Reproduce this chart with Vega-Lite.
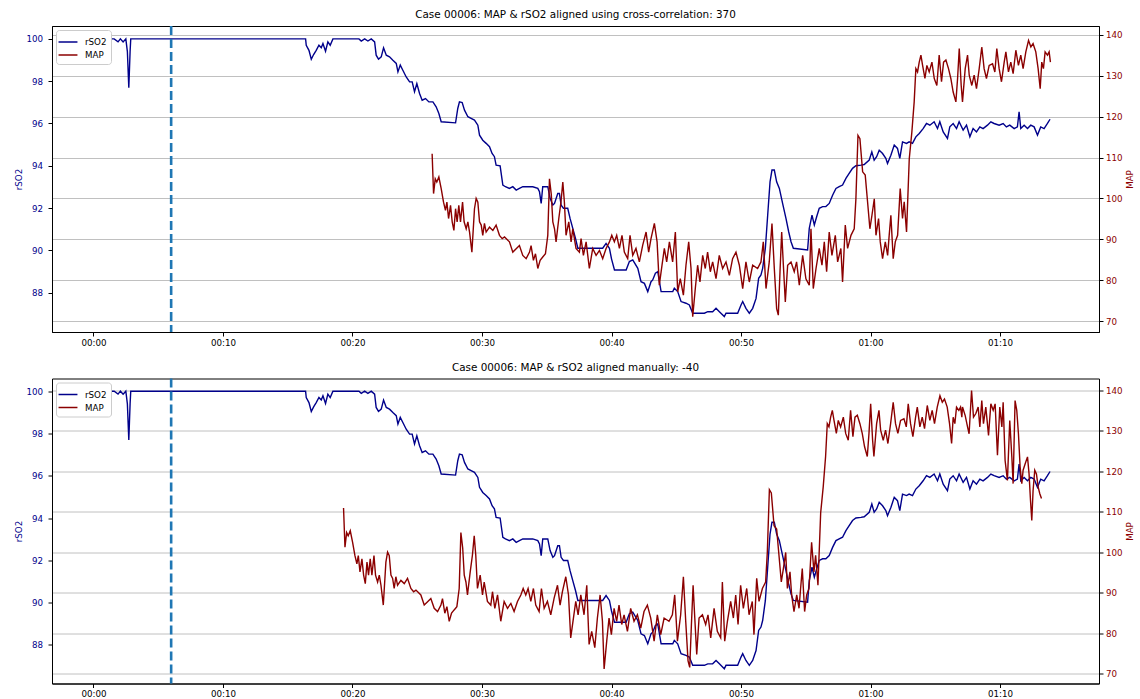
{
"$schema": "https://vega.github.io/schema/vega-lite/v6.json",
"autosize": {"type": "pad"},
"padding": {"left": 13, "top": 9, "right": 2, "bottom": 2},
"background": "white",
"config": {
  "font": "DejaVu Sans",
  "view": {"stroke": "#000000", "strokeWidth": 1},
  "axis": {"labelFontSize": 8.7, "titleFontSize": 8.7, "titleFontWeight": "normal", "tickSize": 4, "tickColor": "#000000", "domainColor": "#000000", "labelColor": "#000000", "grid": false},
  "title": {"fontSize": 10.4, "fontWeight": "normal", "offset": 4, "color": "#000000"},
  "legend": {"orient": "top-left", "title": null, "symbolType": "M-1.35,0H1.35", "symbolStrokeWidth": 1.5, "symbolSize": 196, "labelFontSize": 8.7, "labelColor": "#000000", "strokeColor": "#cccccc", "fillColor": "#ffffff", "padding": 4, "cornerRadius": 3, "offset": 4, "rowPadding": -1, "labelOffset": 9}
},
"datasets": {
"rso2": [
{"t":0.5,"v":100},{"t":1.6,"v":100},{"t":1.9,"v":99.86},{"t":2.08,"v":100},{"t":2.29,"v":99.86},{"t":2.5,"v":100},{"t":2.62,"v":99.4},{"t":2.73,"v":97.69},{"t":2.83,"v":99.4},{"t":2.88,"v":100},
{"t":16.38,"v":100},{"t":16.43,"v":99.7},{"t":16.64,"v":99.46},{"t":16.82,"v":99.04},{"t":17.0,"v":99.26},{"t":17.2,"v":99.46},{"t":17.41,"v":99.7},{"t":17.59,"v":99.58},{"t":17.72,"v":99.78},{"t":17.92,"v":99.42},{"t":18.1,"v":99.86},{"t":18.28,"v":99.7},{"t":18.49,"v":100},
{"t":20.5,"v":100},{"t":20.68,"v":99.9},{"t":20.94,"v":100},{"t":21.19,"v":99.9},{"t":21.45,"v":100},{"t":21.71,"v":99.86},{"t":21.83,"v":99.23},{"t":22.01,"v":99.04},{"t":22.22,"v":99.15},{"t":22.4,"v":99.58},{"t":22.61,"v":99.23},{"t":22.86,"v":99.15},{"t":23.12,"v":98.99},{"t":23.38,"v":98.84},{"t":23.51,"v":98.44},{"t":23.69,"v":98.76},{"t":23.89,"v":98.52},{"t":24.15,"v":98.2},{"t":24.41,"v":97.97},{"t":24.61,"v":97.97},{"t":24.79,"v":97.5},{"t":24.97,"v":97.89},{"t":25.18,"v":97.42},{"t":25.38,"v":97.1},{"t":25.64,"v":97.18},{"t":25.9,"v":97.02},{"t":26.21,"v":97.02},{"t":26.46,"v":96.79},{"t":26.67,"v":96.47},{"t":26.85,"v":96.08},{"t":27.96,"v":96.03},{"t":28.13,"v":96.71},{"t":28.26,"v":97.02},{"t":28.47,"v":96.99},{"t":28.65,"v":96.63},{"t":28.91,"v":96.32},{"t":29.16,"v":96.24},{"t":29.42,"v":96.16},{"t":29.68,"v":95.92},{"t":29.81,"v":95.45},{"t":30.06,"v":95.21},{"t":30.32,"v":95.06},{"t":30.58,"v":94.9},{"t":30.78,"v":94.58},{"t":30.96,"v":94.43},{"t":31.09,"v":94.03},{"t":31.4,"v":94.0},{"t":31.61,"v":93.09},{"t":31.81,"v":93.01},{"t":32.12,"v":92.93},{"t":32.38,"v":93.01},{"t":32.64,"v":92.85},{"t":32.89,"v":92.93},{"t":33.15,"v":93.01},{"t":33.54,"v":93.01},{"t":33.92,"v":93.01},{"t":34.31,"v":92.93},{"t":34.44,"v":92.77},{"t":34.57,"v":92.22},{"t":34.69,"v":93.01},{"t":35.08,"v":93.01},{"t":35.26,"v":92.46},{"t":35.47,"v":92.14},{"t":35.6,"v":92.22},{"t":35.85,"v":92.69},{"t":35.98,"v":92.69},{"t":36.11,"v":92.14},{"t":36.29,"v":91.99},{"t":36.62,"v":91.99},{"t":36.8,"v":91.51},{"t":37.01,"v":91.04},{"t":37.22,"v":90.57},{"t":37.4,"v":90.1},{"t":39.32,"v":90.1},{"t":39.58,"v":90.33},{"t":39.84,"v":90.1},{"t":40.0,"v":89.6},{"t":40.23,"v":89.07},{"t":41.13,"v":89.07},{"t":41.38,"v":89.47},{"t":41.64,"v":89.55},{"t":42.03,"v":89.15},{"t":42.28,"v":88.52},{"t":42.54,"v":88.44},{"t":42.8,"v":88.05},{"t":43.05,"v":88.52},{"t":43.18,"v":88.6},{"t":43.39,"v":88.92},{"t":43.57,"v":88.99},{"t":43.83,"v":88.05},{"t":44.73,"v":88.05},{"t":44.85,"v":88.21},{"t":45.11,"v":88.05},{"t":45.37,"v":87.58},{"t":45.75,"v":87.5},{"t":46.01,"v":87.42},{"t":46.27,"v":87.03},{"t":47.17,"v":87.03},{"t":47.43,"v":87.1},{"t":47.81,"v":87.1},{"t":48.07,"v":87.26},{"t":48.33,"v":87.1},{"t":48.71,"v":86.87},{"t":48.84,"v":87.03},{"t":49.74,"v":87.03},{"t":50.0,"v":87.42},{"t":50.13,"v":87.58},{"t":50.38,"v":87.26},{"t":50.64,"v":87.03},{"t":50.9,"v":87.26},{"t":51.16,"v":87.73},{"t":51.36,"v":88.68},{"t":51.54,"v":88.84},{"t":51.67,"v":89.15},{"t":51.88,"v":90.1},{"t":52.06,"v":91.67},{"t":52.24,"v":93.24},{"t":52.39,"v":93.8},{"t":52.57,"v":93.8},{"t":52.75,"v":93.24},{"t":52.96,"v":92.93},{"t":53.21,"v":92.22},{"t":53.47,"v":91.51},{"t":53.68,"v":90.88},{"t":53.86,"v":90.41},{"t":54.04,"v":90.1},{"t":55.14,"v":90.02},{"t":55.27,"v":91.04},{"t":55.48,"v":91.67},{"t":55.66,"v":91.2},{"t":55.84,"v":91.59},{"t":56.04,"v":91.99},{"t":56.3,"v":92.07},{"t":56.55,"v":92.07},{"t":56.81,"v":92.22},{"t":57.07,"v":92.61},{"t":57.33,"v":92.93},{"t":57.58,"v":93.01},{"t":57.84,"v":93.09},{"t":58.1,"v":93.4},{"t":58.35,"v":93.64},{"t":58.61,"v":93.88},{"t":58.87,"v":94.0},{"t":59.26,"v":94.03},{"t":59.51,"v":94.06},{"t":59.9,"v":94.27},{"t":60.1,"v":94.66},{"t":60.28,"v":94.27},{"t":60.47,"v":94.43},{"t":60.67,"v":94.74},{"t":60.93,"v":94.58},{"t":61.18,"v":94.35},{"t":61.31,"v":94.11},{"t":61.57,"v":94.5},{"t":61.83,"v":94.98},{"t":62.08,"v":94.82},{"t":62.26,"v":94.35},{"t":62.47,"v":95.13},{"t":62.78,"v":95.06},{"t":62.98,"v":95.13},{"t":63.24,"v":95.06},{"t":63.5,"v":95.37},{"t":63.76,"v":95.53},{"t":64.06,"v":95.76},{"t":64.32,"v":96.0},{"t":64.58,"v":95.92},{"t":64.91,"v":96.08},{"t":65.17,"v":95.76},{"t":65.35,"v":96.08},{"t":65.61,"v":95.6},{"t":65.94,"v":95.29},{"t":66.12,"v":95.84},{"t":66.38,"v":96.0},{"t":66.64,"v":95.76},{"t":66.84,"v":96.08},{"t":67.15,"v":95.69},{"t":67.41,"v":95.92},{"t":67.67,"v":95.37},{"t":67.92,"v":95.76},{"t":68.18,"v":95.6},{"t":68.44,"v":95.84},{"t":68.69,"v":95.76},{"t":69.03,"v":95.92},{"t":69.29,"v":96.08},{"t":69.54,"v":96.0},{"t":69.93,"v":95.92},{"t":70.24,"v":96.0},{"t":70.49,"v":95.84},{"t":70.75,"v":95.92},{"t":71.09,"v":95.76},{"t":71.34,"v":95.84},{"t":71.47,"v":96.55},{"t":71.6,"v":95.76},{"t":71.86,"v":95.92},{"t":72.12,"v":95.76},{"t":72.37,"v":95.92},{"t":72.63,"v":95.84},{"t":72.89,"v":95.45},{"t":73.14,"v":95.84},{"t":73.4,"v":95.76},{"t":73.66,"v":96.0},{"t":73.86,"v":96.2}
],
"map": [
{"tc":26.15,"tm":19.31,"v":110.9},{"tc":26.26,"tm":19.42,"v":101.2},{"tc":26.39,"tm":19.55,"v":104.8},{"tc":26.51,"tm":19.67,"v":104.0},{"tc":26.67,"tm":19.83,"v":105.25},{"tc":26.85,"tm":20.01,"v":102.4},{"tc":27.03,"tm":20.19,"v":99.1},{"tc":27.18,"tm":20.34,"v":97.1},{"tc":27.29,"tm":20.45,"v":99.1},{"tc":27.42,"tm":20.58,"v":95.1},{"tc":27.57,"tm":20.73,"v":98.3},{"tc":27.7,"tm":20.86,"v":94.3},{"tc":27.83,"tm":20.99,"v":92.2},{"tc":27.96,"tm":21.12,"v":97.5},{"tc":28.08,"tm":21.24,"v":94.3},{"tc":28.21,"tm":21.37,"v":98.3},{"tc":28.34,"tm":21.5,"v":94.3},{"tc":28.5,"tm":21.66,"v":99.1},{"tc":28.62,"tm":21.78,"v":94.3},{"tc":28.78,"tm":21.94,"v":92.6},{"tc":28.91,"tm":22.07,"v":94.3},{"tc":29.04,"tm":22.2,"v":91.8},{"tc":29.22,"tm":22.38,"v":86.9},{"tc":29.42,"tm":22.58,"v":97.5},{"tc":29.55,"tm":22.71,"v":100.0},{"tc":29.68,"tm":22.84,"v":99.1},{"tc":29.81,"tm":22.97,"v":94.3},{"tc":29.94,"tm":23.1,"v":93.5},{"tc":30.06,"tm":23.22,"v":91.0},{"tc":30.19,"tm":23.35,"v":93.9},{"tc":30.32,"tm":23.48,"v":91.8},{"tc":30.58,"tm":23.74,"v":93.0},{"tc":30.84,"tm":24.0,"v":92.2},{"tc":31.09,"tm":24.25,"v":93.5},{"tc":31.35,"tm":24.51,"v":91.0},{"tc":31.56,"tm":24.72,"v":90.2},{"tc":31.74,"tm":24.9,"v":90.6},{"tc":32.12,"tm":25.28,"v":89.4},{"tc":32.38,"tm":25.54,"v":86.9},{"tc":32.64,"tm":25.8,"v":87.7},{"tc":32.89,"tm":26.05,"v":88.5},{"tc":33.15,"tm":26.31,"v":86.1},{"tc":33.41,"tm":26.57,"v":85.3},{"tc":33.67,"tm":26.83,"v":86.9},{"tc":33.79,"tm":26.95,"v":88.5},{"tc":33.97,"tm":27.13,"v":84.9},{"tc":34.13,"tm":27.29,"v":86.5},{"tc":34.31,"tm":27.47,"v":82.9},{"tc":34.49,"tm":27.65,"v":84.9},{"tc":34.69,"tm":27.85,"v":85.7},{"tc":34.9,"tm":28.06,"v":86.5},{"tc":35.08,"tm":28.24,"v":91.0},{"tc":35.21,"tm":28.37,"v":104.8},{"tc":35.35,"tm":28.51,"v":101.0},{"tc":35.47,"tm":28.63,"v":94.3},{"tc":35.6,"tm":28.76,"v":92.6},{"tc":35.72,"tm":28.88,"v":89.4},{"tc":35.93,"tm":29.09,"v":95.1},{"tc":36.1,"tm":29.26,"v":99.2},{"tc":36.24,"tm":29.4,"v":104.0},{"tc":36.36,"tm":29.52,"v":99.2},{"tc":36.49,"tm":29.65,"v":91.0},{"tc":36.7,"tm":29.86,"v":94.3},{"tc":36.88,"tm":30.04,"v":89.4},{"tc":37.01,"tm":30.17,"v":92.6},{"tc":37.26,"tm":30.42,"v":87.8},{"tc":37.52,"tm":30.68,"v":86.9},{"tc":37.65,"tm":30.81,"v":90.2},{"tc":37.83,"tm":30.99,"v":86.1},{"tc":38.04,"tm":31.2,"v":89.4},{"tc":38.29,"tm":31.45,"v":82.9},{"tc":38.55,"tm":31.71,"v":87.8},{"tc":38.81,"tm":31.97,"v":86.1},{"tc":39.07,"tm":32.23,"v":87.3},{"tc":39.32,"tm":32.48,"v":85.3},{"tc":39.58,"tm":32.74,"v":87.8},{"tc":39.84,"tm":33.0,"v":89.4},{"tc":40.02,"tm":33.18,"v":91.0},{"tc":40.22,"tm":33.38,"v":89.4},{"tc":40.4,"tm":33.56,"v":91.0},{"tc":40.61,"tm":33.77,"v":87.8},{"tc":40.81,"tm":33.97,"v":91.0},{"tc":40.99,"tm":34.15,"v":86.9},{"tc":41.25,"tm":34.41,"v":85.3},{"tc":41.43,"tm":34.59,"v":91.0},{"tc":41.64,"tm":34.8,"v":86.1},{"tc":41.89,"tm":35.05,"v":87.8},{"tc":42.15,"tm":35.31,"v":84.5},{"tc":42.41,"tm":35.57,"v":88.6},{"tc":42.67,"tm":35.83,"v":91.8},{"tc":42.87,"tm":36.03,"v":86.9},{"tc":43.05,"tm":36.21,"v":90.2},{"tc":43.31,"tm":36.47,"v":93.9},{"tc":43.52,"tm":36.68,"v":89.4},{"tc":43.69,"tm":36.85,"v":78.8},{"tc":43.9,"tm":37.06,"v":83.7},{"tc":44.08,"tm":37.24,"v":87.8},{"tc":44.26,"tm":37.42,"v":84.5},{"tc":44.47,"tm":37.63,"v":89.4},{"tc":44.72,"tm":37.88,"v":84.5},{"tc":44.93,"tm":38.09,"v":91.8},{"tc":45.11,"tm":38.27,"v":77.2},{"tc":45.31,"tm":38.47,"v":80.4},{"tc":45.55,"tm":38.71,"v":76.4},{"tc":45.75,"tm":38.91,"v":83.7},{"tc":45.96,"tm":39.12,"v":89.4},{"tc":46.14,"tm":39.3,"v":82.9},{"tc":46.27,"tm":39.43,"v":71.1},{"tc":46.47,"tm":39.63,"v":78.0},{"tc":46.65,"tm":39.81,"v":83.7},{"tc":46.83,"tm":39.99,"v":79.6},{"tc":47.04,"tm":40.2,"v":86.1},{"tc":47.24,"tm":40.4,"v":82.9},{"tc":47.42,"tm":40.58,"v":86.9},{"tc":47.63,"tm":40.79,"v":82.1},{"tc":47.81,"tm":40.97,"v":84.5},{"tc":48.07,"tm":41.23,"v":80.4},{"tc":48.32,"tm":41.48,"v":86.1},{"tc":48.58,"tm":41.74,"v":82.9},{"tc":48.84,"tm":42.0,"v":84.5},{"tc":49.1,"tm":42.26,"v":81.2},{"tc":49.35,"tm":42.51,"v":85.3},{"tc":49.61,"tm":42.77,"v":86.9},{"tc":49.87,"tm":43.03,"v":83.7},{"tc":50.13,"tm":43.29,"v":78.0},{"tc":50.38,"tm":43.54,"v":84.5},{"tc":50.64,"tm":43.8,"v":79.6},{"tc":50.9,"tm":44.06,"v":83.7},{"tc":51.28,"tm":44.44,"v":82.9},{"tc":51.54,"tm":44.7,"v":84.5},{"tc":51.72,"tm":44.88,"v":89.4},{"tc":51.93,"tm":45.09,"v":78.0},{"tc":52.18,"tm":45.34,"v":84.5},{"tc":52.39,"tm":45.55,"v":93.9},{"tc":52.57,"tm":45.73,"v":82.9},{"tc":52.75,"tm":45.91,"v":73.1},{"tc":52.88,"tm":46.04,"v":71.5},{"tc":53.01,"tm":46.17,"v":82.1},{"tc":53.14,"tm":46.3,"v":91.8},{"tc":53.27,"tm":46.43,"v":83.7},{"tc":53.42,"tm":46.58,"v":74.7},{"tc":53.6,"tm":46.76,"v":83.7},{"tc":53.86,"tm":47.02,"v":84.5},{"tc":54.11,"tm":47.27,"v":82.1},{"tc":54.29,"tm":47.45,"v":84.5},{"tc":54.5,"tm":47.66,"v":78.8},{"tc":54.76,"tm":47.92,"v":86.1},{"tc":55.01,"tm":48.17,"v":80.4},{"tc":55.27,"tm":48.43,"v":78.8},{"tc":55.4,"tm":48.56,"v":92.6},{"tc":55.58,"tm":48.74,"v":78.0},{"tc":55.79,"tm":48.95,"v":82.9},{"tc":56.04,"tm":49.2,"v":87.8},{"tc":56.25,"tm":49.41,"v":83.7},{"tc":56.43,"tm":49.59,"v":89.4},{"tc":56.61,"tm":49.77,"v":82.1},{"tc":56.81,"tm":49.97,"v":91.8},{"tc":57.02,"tm":50.18,"v":86.1},{"tc":57.28,"tm":50.44,"v":91.0},{"tc":57.46,"tm":50.62,"v":84.5},{"tc":57.71,"tm":50.87,"v":87.8},{"tc":57.84,"tm":51.0,"v":79.6},{"tc":58.05,"tm":51.21,"v":93.5},{"tc":58.23,"tm":51.39,"v":87.8},{"tc":58.49,"tm":51.65,"v":91.0},{"tc":58.74,"tm":51.9,"v":92.6},{"tc":58.87,"tm":52.03,"v":99.9},{"tc":59.03,"tm":52.19,"v":115.4},{"tc":59.18,"tm":52.34,"v":114.6},{"tc":59.39,"tm":52.55,"v":106.5},{"tc":59.59,"tm":52.75,"v":105.7},{"tc":59.77,"tm":52.93,"v":99.2},{"tc":59.95,"tm":53.11,"v":92.6},{"tc":60.11,"tm":53.27,"v":95.9},{"tc":60.29,"tm":53.45,"v":99.9},{"tc":60.42,"tm":53.58,"v":91.0},{"tc":60.62,"tm":53.78,"v":95.1},{"tc":60.75,"tm":53.91,"v":89.4},{"tc":60.93,"tm":54.09,"v":85.3},{"tc":61.14,"tm":54.3,"v":89.4},{"tc":61.32,"tm":54.48,"v":86.1},{"tc":61.44,"tm":54.6,"v":91.0},{"tc":61.57,"tm":54.73,"v":95.9},{"tc":61.75,"tm":54.91,"v":85.3},{"tc":61.91,"tm":55.07,"v":89.4},{"tc":62.09,"tm":55.25,"v":91.0},{"tc":62.29,"tm":55.45,"v":102.4},{"tc":62.47,"tm":55.63,"v":95.1},{"tc":62.6,"tm":55.76,"v":99.2},{"tc":62.78,"tm":55.94,"v":91.8},{"tc":62.99,"tm":56.15,"v":109.7},{"tc":63.19,"tm":56.35,"v":116.2},{"tc":63.37,"tm":56.53,"v":123.6},{"tc":63.5,"tm":56.66,"v":131.7},{"tc":63.63,"tm":56.79,"v":130.9},{"tc":63.76,"tm":56.92,"v":133.3},{"tc":63.89,"tm":57.05,"v":135.0},{"tc":64.02,"tm":57.18,"v":132.5},{"tc":64.2,"tm":57.36,"v":129.3},{"tc":64.35,"tm":57.51,"v":132.5},{"tc":64.53,"tm":57.69,"v":130.9},{"tc":64.74,"tm":57.9,"v":133.3},{"tc":64.92,"tm":58.08,"v":129.3},{"tc":65.12,"tm":58.28,"v":127.6},{"tc":65.3,"tm":58.46,"v":135.0},{"tc":65.48,"tm":58.64,"v":128.5},{"tc":65.64,"tm":58.8,"v":133.3},{"tc":65.82,"tm":58.98,"v":133.8},{"tc":66.02,"tm":59.18,"v":131.7},{"tc":66.2,"tm":59.36,"v":129.3},{"tc":66.38,"tm":59.54,"v":126.0},{"tc":66.59,"tm":59.75,"v":123.6},{"tc":66.72,"tm":59.88,"v":129.3},{"tc":66.85,"tm":60.01,"v":136.6},{"tc":67.0,"tm":60.16,"v":127.6},{"tc":67.1,"tm":60.26,"v":123.6},{"tc":67.31,"tm":60.47,"v":131.7},{"tc":67.49,"tm":60.65,"v":135.0},{"tc":67.62,"tm":60.78,"v":130.1},{"tc":67.82,"tm":60.98,"v":127.6},{"tc":68.0,"tm":61.16,"v":130.1},{"tc":68.18,"tm":61.34,"v":126.8},{"tc":68.39,"tm":61.55,"v":131.7},{"tc":68.59,"tm":61.75,"v":137.0},{"tc":68.77,"tm":61.93,"v":131.7},{"tc":68.95,"tm":62.11,"v":129.3},{"tc":69.16,"tm":62.32,"v":132.5},{"tc":69.42,"tm":62.58,"v":132.9},{"tc":69.6,"tm":62.76,"v":130.9},{"tc":69.75,"tm":62.91,"v":136.6},{"tc":69.93,"tm":63.09,"v":131.7},{"tc":70.11,"tm":63.27,"v":128.5},{"tc":70.32,"tm":63.48,"v":133.3},{"tc":70.45,"tm":63.61,"v":135.8},{"tc":70.65,"tm":63.81,"v":130.9},{"tc":70.83,"tm":63.99,"v":133.3},{"tc":71.01,"tm":64.17,"v":130.5},{"tc":71.22,"tm":64.38,"v":136.2},{"tc":71.42,"tm":64.58,"v":132.5},{"tc":71.6,"tm":64.76,"v":135.0},{"tc":71.78,"tm":64.94,"v":131.7},{"tc":71.99,"tm":65.15,"v":135.8},{"tc":72.2,"tm":65.36,"v":138.6},{"tc":72.38,"tm":65.54,"v":137.0},{"tc":72.55,"tm":65.71,"v":137.8},{"tc":72.76,"tm":65.92,"v":135.8},{"tc":72.94,"tm":66.1,"v":131.7},{"tc":73.1,"tm":66.26,"v":126.8},{"tc":73.22,"tm":66.38,"v":133.3},{"tc":73.35,"tm":66.51,"v":131.7},{"tc":73.48,"tm":66.64,"v":135.8},{"tc":73.66,"tm":66.82,"v":135.0},{"tc":73.79,"tm":66.95,"v":135.8},{"tc":73.89,"tm":67.05,"v":133.3},
{"tc":null,"tm":67.1,"v":135.8},{"tc":null,"tm":67.31,"v":133.7},{"tc":null,"tm":67.49,"v":130.9},{"tc":null,"tm":67.61,"v":129.2},{"tc":null,"tm":67.8,"v":139.9},{"tc":null,"tm":67.95,"v":133.3},{"tc":null,"tm":68.13,"v":134.2},{"tc":null,"tm":68.31,"v":135.8},{"tc":null,"tm":68.44,"v":130.9},{"tc":null,"tm":68.59,"v":137.4},{"tc":null,"tm":68.72,"v":131.7},{"tc":null,"tm":68.9,"v":135.8},{"tc":null,"tm":69.11,"v":128.8},{"tc":null,"tm":69.29,"v":136.6},{"tc":null,"tm":69.47,"v":135.0},{"tc":null,"tm":69.62,"v":136.6},{"tc":null,"tm":69.8,"v":123.9},{"tc":null,"tm":69.98,"v":135.8},{"tc":null,"tm":70.14,"v":130.9},{"tc":null,"tm":70.24,"v":137.0},{"tc":null,"tm":70.39,"v":122.6},{"tc":null,"tm":70.57,"v":117.7},{"tc":null,"tm":70.75,"v":132.5},{"tc":null,"tm":70.91,"v":123.5},{"tc":null,"tm":71.01,"v":116.9},{"tc":null,"tm":71.16,"v":137.4},{"tc":null,"tm":71.29,"v":135.0},{"tc":null,"tm":71.42,"v":129.2},{"tc":null,"tm":71.55,"v":121.0},{"tc":null,"tm":71.68,"v":116.9},{"tc":null,"tm":71.78,"v":120.2},{"tc":null,"tm":71.94,"v":121.8},{"tc":null,"tm":72.12,"v":123.5},{"tc":null,"tm":72.24,"v":119.3},{"tc":null,"tm":72.35,"v":112.8},{"tc":null,"tm":72.45,"v":107.8},{"tc":null,"tm":72.55,"v":115.2},{"tc":null,"tm":72.68,"v":120.2},{"tc":null,"tm":72.81,"v":119.3},{"tc":null,"tm":72.94,"v":116.1},{"tc":null,"tm":73.07,"v":114.4},{"tc":null,"tm":73.2,"v":113.2}
],
"marker": [{"t": 6}]
},
"resolve": {"scale": {"color": "independent"}, "legend": {"color": "independent"}},
"spacing": 13.5,
"vconcat": [
{
  "title": "Case 00006: MAP & rSO2 aligned using cross-correlation: 370",
  "width": 1047, "height": 306,
  "layer": [
    {"data": {"name": "rso2"}, "mark": {"type": "line", "strokeWidth": 1.4},
     "encoding": {
       "x": {"field": "t", "type": "quantitative", "scale": {"domain": [-3.2, 77.64], "nice": false, "zero": false},
             "axis": {"title": null, "values": [0,10,20,30,40,50,60,70], "labelExpr": "'0' + floor(datum.value/60) + ':' + (datum.value % 60 == 0 ? '00' : '' + (datum.value % 60))", "labelPadding": 2}},
       "y": {"field": "v", "type": "quantitative", "scale": {"domain": [86.14, 100.61], "nice": false, "zero": false},
             "axis": {"orient": "left", "title": "rSO2", "values": [88,90,92,94,96,98,100], "labelColor": "#00008b", "titleColor": "#00008b", "labelPadding": 5.5, "titlePadding": 2.5}},
       "color": {"datum": "rSO2", "type": "nominal", "scale": {"domain": ["rSO2", "MAP"], "range": ["#00008b", "#8b0000"]}}
     }},
    {"data": {"name": "marker"}, "mark": {"type": "rule", "color": "#1f77b4", "strokeWidth": 2.6, "strokeDash": [9, 4]},
     "encoding": {"x": {"field": "t", "type": "quantitative"}}},
    {"data": {"name": "map"}, "transform": [{"filter": "datum.tc != null"}], "mark": {"type": "line", "strokeWidth": 1.4},
     "encoding": {
       "x": {"field": "tc", "type": "quantitative"},
       "y": {"field": "v", "type": "quantitative", "scale": {"domain": [67.39, 142.12], "nice": false, "zero": false},
             "axis": {"orient": "right", "title": "MAP", "values": [70,80,90,100,110,120,130,140], "labelColor": "#8b0000", "titleColor": "#8b0000", "grid": true, "gridColor": "#b0b0b0", "gridWidth": 0.8, "titleAngle": 270, "labelPadding": 2.5, "titlePadding": 12.5}},
       "color": {"datum": "MAP", "type": "nominal"}
     }}
  ],
  "resolve": {"scale": {"y": "independent"}}
},
{
  "title": "Case 00006: MAP & rSO2 aligned manually: -40",
  "width": 1047, "height": 305,
  "layer": [
    {"data": {"name": "rso2"}, "mark": {"type": "line", "strokeWidth": 1.4},
     "encoding": {
       "x": {"field": "t", "type": "quantitative", "scale": {"domain": [-3.2, 77.64], "nice": false, "zero": false},
             "axis": {"title": null, "values": [0,10,20,30,40,50,60,70], "labelExpr": "'0' + floor(datum.value/60) + ':' + (datum.value % 60 == 0 ? '00' : '' + (datum.value % 60))", "labelPadding": 2}},
       "y": {"field": "v", "type": "quantitative", "scale": {"domain": [86.17, 100.6], "nice": false, "zero": false},
             "axis": {"orient": "left", "title": "rSO2", "values": [88,90,92,94,96,98,100], "labelColor": "#00008b", "titleColor": "#00008b", "labelPadding": 5.5, "titlePadding": 2.5}},
       "color": {"datum": "rSO2", "type": "nominal", "scale": {"domain": ["rSO2", "MAP"], "range": ["#00008b", "#8b0000"]}}
     }},
    {"data": {"name": "marker"}, "mark": {"type": "rule", "color": "#1f77b4", "strokeWidth": 2.6, "strokeDash": [9, 4]},
     "encoding": {"x": {"field": "t", "type": "quantitative"}}},
    {"data": {"name": "map"}, "mark": {"type": "line", "strokeWidth": 1.4},
     "encoding": {
       "x": {"field": "tm", "type": "quantitative"},
       "y": {"field": "v", "type": "quantitative", "scale": {"domain": [67.53, 142.86], "nice": false, "zero": false},
             "axis": {"orient": "right", "title": "MAP", "values": [70,80,90,100,110,120,130,140], "labelColor": "#8b0000", "titleColor": "#8b0000", "grid": true, "gridColor": "#b0b0b0", "gridWidth": 0.8, "titleAngle": 270, "labelPadding": 2.5, "titlePadding": 12.5}},
       "color": {"datum": "MAP", "type": "nominal"}
     }}
  ],
  "resolve": {"scale": {"y": "independent"}}
}
]
}
